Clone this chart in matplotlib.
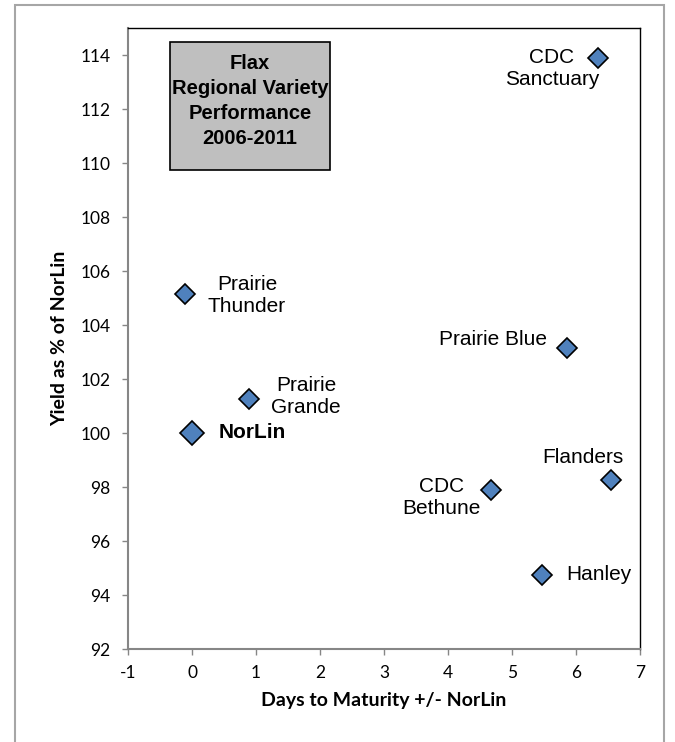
import matplotlib
matplotlib.use("Agg")
import matplotlib.pyplot as plt
from matplotlib.patches import Rectangle

# varieties: days to maturity +/- NorLin, yield as % of NorLin
names = ["CDC\nSanctuary", "Prairie\nThunder", "Prairie Blue", "Prairie\nGrande",
         "NorLin", "Flanders", "CDC\nBethune", "Hanley"]
days = [6.34, -0.11, 5.86, 0.89, 0.0, 6.55, 4.67, 5.47]
yields = [113.9, 105.15, 103.15, 101.25, 100.0, 98.25, 97.9, 94.75]

# label placement (offset pixels from marker, alignment)
label_offsets = [(-46, -11, "center"), (62, -2, "center"), (-20, 8, "right"),
                 (57, 3, "center"), (27, 0, "left"), (-28, 23, "center"),
                 (-49, -8, "center"), (24, 0, "left")]

xticks = list(range(-1, 8))
yticks = list(range(92, 115, 2))

blue = "#4F81BD"
axis_gray = "#868686"

fig = plt.figure(figsize=(6.75, 7.42), dpi=100)
fig.patches.append(Rectangle((15 / 675, -0.02), 649 / 675, 1.02 - 5 / 742,
                             transform=fig.transFigure, fill=False,
                             edgecolor="#a6a6a6", linewidth=1.5))
ax = fig.add_axes([128 / 675, 1 - 649 / 742, 512 / 675, 621 / 742])

for n, x, y in zip(names, days, yields):
    big = n == "NorLin"
    ax.plot(x, y, marker="D", markersize=12.5 if big else 10,
            markerfacecolor=blue, markeredgecolor="black",
            markeredgewidth=1.2, linestyle="none", zorder=3)

for n, x, y, (dx, dy, ha) in zip(names, days, yields, label_offsets):
    bold = n == "NorLin"
    ax.annotate(n, (x, y), xytext=(dx, dy), textcoords="offset pixels",
                ha=ha, va="center", multialignment="center",
                fontsize=15, family="Liberation Sans",
                fontweight="bold" if bold else "normal", linespacing=1.2)

ax.set_xlim(-1, 7)
ax.set_ylim(92, 115)
ax.set_xticks(xticks)
ax.set_yticks(yticks)
ax.set_xticklabels([str(t) for t in xticks], family="Lato", fontsize=12.5)
ax.set_yticklabels([str(t) for t in yticks], family="Lato", fontsize=12.5)
ax.tick_params(axis="both", direction="out", length=4.5, width=1,
               color=axis_gray)
ax.tick_params(axis="x", pad=7)
ax.tick_params(axis="y", pad=8)

for side in ["left", "bottom"]:
    ax.spines[side].set_color(axis_gray)
    ax.spines[side].set_linewidth(1.5)
for side in ["top", "right"]:
    ax.spines[side].set_color("black")
    ax.spines[side].set_linewidth(1)

ax.set_xlabel("Days to Maturity +/- NorLin", family="Lato", fontweight="bold",
              fontsize=14, labelpad=8)
ax.set_ylabel("Yield as % of NorLin", family="Lato", fontweight="bold",
              fontsize=14, labelpad=9)

# title box
ax.add_patch(Rectangle((0.082, 0.771), 0.313, 0.206, transform=ax.transAxes,
                       facecolor="#bfbfbf", edgecolor="black", linewidth=1.2,
                       zorder=2))
ax.text(0.2385, 0.882, "Flax\nRegional Variety\nPerformance\n2006-2011",
        transform=ax.transAxes, ha="center", va="center",
        family="Liberation Sans", fontweight="bold", fontsize=14.5,
        linespacing=1.4, zorder=4)

fig.savefig("out.png", dpi=100)
